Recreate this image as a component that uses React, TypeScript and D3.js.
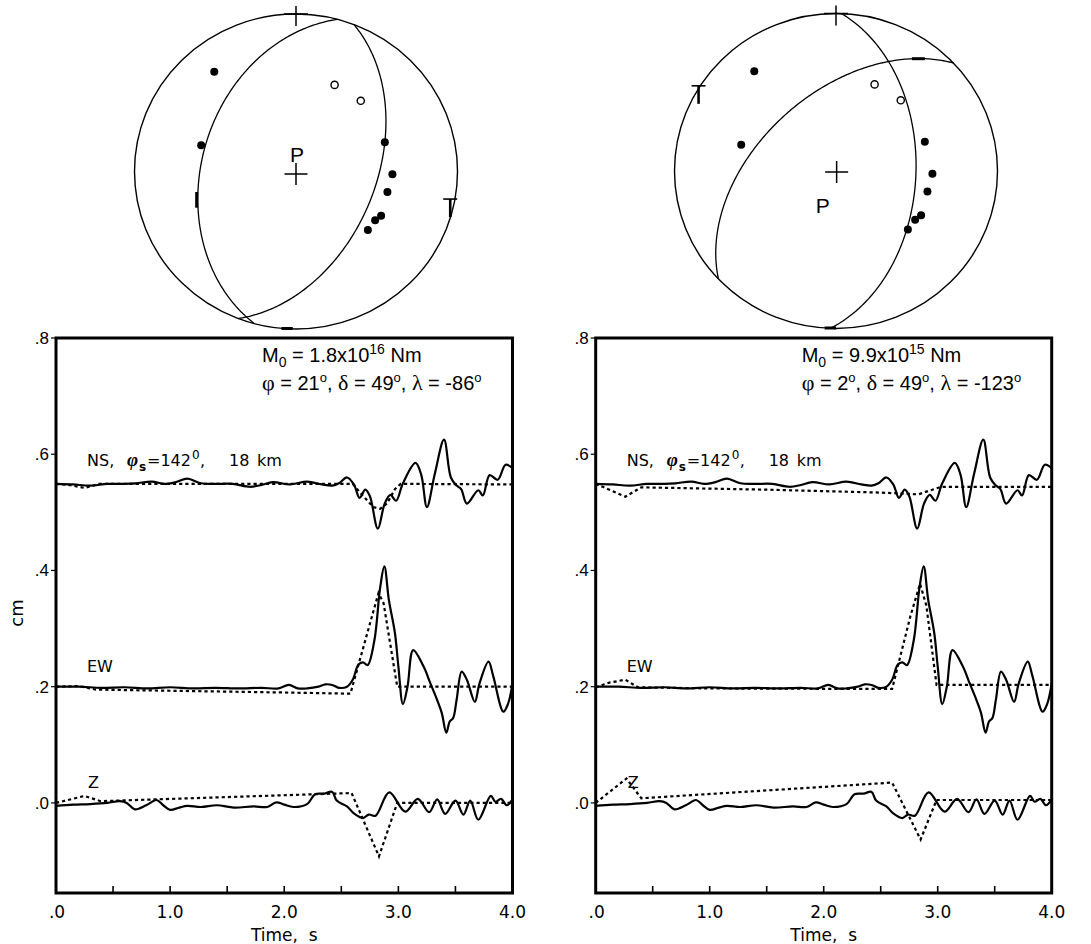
import React from "react";
import * as d3 from "d3";

// ---------- data ----------
const timeTicks = [0, 1, 2, 3, 4];
const timeTickLabels = [".0", "1.0", "2.0", "3.0", "4.0"];
const timeMinorTicks = [0.5, 1, 1.5, 2, 2.5, 3, 3.5];
const ampTicks = [0, 0.2, 0.4, 0.6, 0.8];
const ampTickLabels = [".0", ".2", ".4", ".6", ".8"];

// focal mechanisms (left, right)
const strikes = [21, 2];
const dips = [49, 49];
const rakes = [-86, -123];
const momentMantissa = ["1.8", "9.9"];
const momentExponent = ["16", "15"];

// polarity observations (normalised position inside the focal sphere plot)
const stationX = [-0.506, -0.587, 0.239, 0.401, 0.55, 0.597, 0.566, 0.527, 0.49, 0.445];
const stationY = [-0.634, -0.166, -0.55, -0.449, -0.185, 0.017, 0.13, 0.281, 0.31, 0.371];
const stationCompression = [true, true, false, false, true, true, true, true, true, true];

// P and T axes (normalised positions)
const pAxisX = [0, 0.004];
const pAxisY = [0.016, 0.006];
const tAxisX = [0.955, -0.851];
const tAxisY = [0.175, -0.541];

// observed records (time s, displacement cm with offsets)
const nsObserved: [number, number][] = [
  [0, 0.549], [0.15, 0.548], [0.3, 0.546], [0.45, 0.549], [0.6, 0.549], [0.7, 0.55], [0.84, 0.553],
  [0.95, 0.549], [1.05, 0.552], [1.15, 0.558], [1.27, 0.55], [1.4, 0.549], [1.55, 0.549], [1.7, 0.544],
  [1.8, 0.547], [1.9, 0.552], [2.05, 0.548], [2.2, 0.553], [2.33, 0.548], [2.42, 0.546], [2.48, 0.55],
  [2.55, 0.56], [2.61, 0.548], [2.66, 0.525], [2.71, 0.539], [2.75, 0.528], [2.82, 0.472], [2.88, 0.515],
  [2.93, 0.53], [2.98, 0.52], [3.04, 0.55], [3.15, 0.585], [3.2, 0.565], [3.25, 0.509], [3.32, 0.567],
  [3.4, 0.625], [3.46, 0.56], [3.51, 0.546], [3.55, 0.54], [3.6, 0.515], [3.7, 0.538], [3.74, 0.529],
  [3.8, 0.564], [3.87, 0.556], [3.94, 0.582], [4.0, 0.576],
];
const ewObserved: [number, number][] = [
  [0, 0.2], [0.2, 0.2], [0.4, 0.198], [0.6, 0.199], [0.8, 0.197], [1.0, 0.199], [1.2, 0.197],
  [1.4, 0.198], [1.6, 0.197], [1.8, 0.198], [1.95, 0.197], [2.04, 0.203], [2.12, 0.197], [2.2, 0.197],
  [2.3, 0.2], [2.36, 0.204], [2.42, 0.203], [2.48, 0.198], [2.55, 0.2], [2.6, 0.212], [2.65, 0.238],
  [2.69, 0.242], [2.73, 0.237], [2.79, 0.28], [2.84, 0.37], [2.877, 0.407], [2.917, 0.349], [2.97, 0.292],
  [3.0, 0.235], [3.04, 0.17], [3.08, 0.2], [3.13, 0.263], [3.22, 0.235], [3.28, 0.206], [3.34, 0.177],
  [3.38, 0.155], [3.42, 0.121], [3.45, 0.14], [3.48, 0.146], [3.51, 0.177], [3.555, 0.226], [3.6, 0.212],
  [3.67, 0.174], [3.71, 0.205], [3.79, 0.243], [3.83, 0.219], [3.92, 0.157], [3.96, 0.17], [4.0, 0.205],
];
const zObserved: [number, number][] = [
  [0, -0.005], [0.15, -0.003], [0.3, -0.002], [0.45, 0.0], [0.56, 0.003], [0.62, 0.0], [0.69, -0.011],
  [0.79, -0.004], [0.88, 0.005], [0.94, -0.004], [1.0, -0.012], [1.08, -0.008], [1.15, -0.005],
  [1.27, -0.007], [1.41, -0.004], [1.56, -0.008], [1.73, -0.006], [1.85, -0.007], [1.93, 0.001],
  [2.0, -0.003], [2.08, -0.007], [2.2, -0.002], [2.27, 0.015], [2.35, 0.016], [2.42, 0.019], [2.46, 0.004],
  [2.55, -0.006], [2.61, -0.018], [2.69, -0.026], [2.74, -0.02], [2.8, -0.022], [2.92, 0.018],
  [3.06, -0.015], [3.17, 0.007], [3.27, -0.016], [3.34, 0.006], [3.41, -0.019], [3.5, 0.004],
  [3.57, -0.02], [3.63, 0.004], [3.7, -0.029], [3.81, 0.012], [3.85, 0.002], [3.9, 0.007],
  [3.95, -0.004], [4.0, 0.006],
];

// synthetic records, left model
const nsSyntheticA: [number, number][] = [
  [0, 0.549], [0.12, 0.547], [0.25, 0.542], [0.38, 0.549], [2.6, 0.549], [2.66, 0.535], [2.72, 0.522],
  [2.78, 0.509], [2.84, 0.506], [2.9, 0.515], [2.97, 0.54], [3.02, 0.549], [4.0, 0.548],
];
const ewSyntheticA: [number, number][] = [
  [0, 0.2], [0.2, 0.201], [0.35, 0.195], [1.0, 0.193], [2.0, 0.19], [2.58, 0.188], [2.76, 0.315],
  [2.826, 0.361], [2.87, 0.344], [2.99, 0.2], [4.0, 0.2],
];
const zSyntheticA: [number, number][] = [
  [0, 0], [0.25, 0.012], [0.39, 0.003], [2.59, 0.017], [2.83, -0.092], [2.99, 0.0], [4.0, 0.0],
];
// synthetic records, right model
const nsSyntheticB: [number, number][] = [
  [0, 0.549], [0.26, 0.527], [0.4, 0.543], [1.5, 0.539], [2.5, 0.534], [2.83, 0.531], [3.03, 0.544],
  [4.0, 0.544],
];
const ewSyntheticB: [number, number][] = [
  [0, 0.199], [0.12, 0.207], [0.26, 0.212], [0.37, 0.199], [1.0, 0.197], [2.6, 0.196], [2.76, 0.321],
  [2.845, 0.377], [2.9, 0.34], [2.99, 0.203], [4.0, 0.203],
];
const zSyntheticB: [number, number][] = [
  [0, 0], [0.27, 0.042], [0.4, 0.008], [2.6, 0.035], [2.85, -0.063], [2.99, 0.005], [4.0, 0.005],
];

const synthetics = [
  [nsSyntheticA, ewSyntheticA, zSyntheticA],
  [nsSyntheticB, ewSyntheticB, zSyntheticB],
];

// ---------- layout ----------
const W = 1091;
const H = 944;
const frameLeft = [56, 595.7];
const frameRight = [512.5, 1051.7];
const frameTop = 338;
const frameBottom = 893;
const ballCX = [296, 836];
const ballCY = [171.5, 171];
const ballRX = 161.5;
const ballRY = 157.5;

const RAD = Math.PI / 180;

function planeArc(strike: number, dip: number): [number, number][] {
  const s = strike * RAD;
  const d = dip * RAD;
  const sv = [Math.cos(s), Math.sin(s), 0];
  const dv = [-Math.sin(s) * Math.cos(d), Math.cos(s) * Math.cos(d), Math.sin(d)];
  const pts: [number, number][] = [];
  const n = 180;
  for (let i = 0; i <= n; i++) {
    const t = (Math.PI * i) / n;
    const vN = Math.cos(t) * sv[0] + Math.sin(t) * dv[0];
    const vE = Math.cos(t) * sv[1] + Math.sin(t) * dv[1];
    const vD = Math.max(0, Math.min(1, Math.cos(t) * sv[2] + Math.sin(t) * dv[2]));
    const trend = Math.atan2(vE, vN);
    const plunge = Math.asin(vD);
    const r = Math.SQRT2 * Math.sin((Math.PI / 2 - plunge) / 2);
    pts.push([r * Math.sin(trend), -r * Math.cos(trend)]);
  }
  return pts;
}

function auxiliaryPlane(strike: number, dip: number, rake: number): [number, number] {
  const f = strike * RAD, d = dip * RAD, l = rake * RAD;
  let uN = Math.cos(l) * Math.cos(f) + Math.sin(l) * Math.cos(d) * Math.sin(f);
  let uE = Math.cos(l) * Math.sin(f) - Math.sin(l) * Math.cos(d) * Math.cos(f);
  let uD = -Math.sin(l) * Math.sin(d);
  if (uD > 0) { uN = -uN; uE = -uE; uD = -uD; }
  const dip2 = Math.acos(-uD) / RAD;
  const dipDir = Math.atan2(uE, uN) / RAD;
  return [dipDir - 90, dip2];
}

const FONT = "'Liberation Sans', Arial, Helvetica, sans-serif";
const GOTHIC = "'DejaVu Sans', 'Liberation Sans', sans-serif";

function Beachball({ i }: { i: number }) {
  const bx = d3.scaleLinear().domain([-1, 1]).range([ballCX[i] - ballRX, ballCX[i] + ballRX]);
  const by = d3.scaleLinear().domain([-1, 1]).range([ballCY[i] - ballRY, ballCY[i] + ballRY]);
  const line = d3.line<[number, number]>().x((d) => bx(d[0])).y((d) => by(d[1]));
  const aux = auxiliaryPlane(strikes[i], dips[i], rakes[i]);
  const arcs = [planeArc(strikes[i], dips[i]), planeArc(aux[0], aux[1])];
  const px = bx(pAxisX[i]), py = by(pAxisY[i]);
  const tx = bx(tAxisX[i]), ty = by(tAxisY[i]);
  const nx = bx(0), ny = by(-1);
  return (
    <g>
      <ellipse cx={ballCX[i]} cy={ballCY[i]} rx={ballRX} ry={ballRY} fill="none" stroke="#000" strokeWidth={1.4} />
      {arcs.map((a, k) => (
        <path key={k} d={line(a) || ""} fill="none" stroke="#000" strokeWidth={1.3} />
      ))}
      {/* north mark */}
      <path d={`M${nx - 12},${ny} H${nx + 12} M${nx},${ny - 8} V${ny + 12}`} stroke="#000" strokeWidth={1.5} />
      {/* P axis */}
      <path d={`M${px - 11.5},${py} H${px + 11.5} M${px},${py - 11} V${py + 11}`} stroke="#000" strokeWidth={1.5} />
      <text x={i === 0 ? px + 1 : px - 14} y={i === 0 ? py - 12 : py + 41} fontFamily={FONT} fontSize={21} textAnchor="middle">P</text>
      {/* T axis */}
      <path d={`M${tx - 7},${ty} H${tx + 7}`} stroke="#000" strokeWidth={1.6} />
      <path d={`M${tx},${ty} V${ty + 18}`} stroke="#000" strokeWidth={2.6} />
      {/* slip markers */}
      {i === 0 ? (
        <g stroke="#000" strokeWidth={3}>
          <path d={`M${bx(-0.615)},${by(0.13)} V${by(0.23)}`} />
          <path d={`M${bx(-0.09)},${by(1.0) - 0.5} H${bx(-0.02)}`} />
        </g>
      ) : (
        <g stroke="#000" strokeWidth={3}>
          <path d={`M${bx(0.47)},${by(-0.713)} H${bx(0.55)}`} />
          <path d={`M${bx(-0.07)},${by(1.0) - 0.5} H${bx(0.0)}`} />
        </g>
      )}
      {stationX.map((sx, k) =>
        stationCompression[k] ? (
          <circle key={k} cx={bx(sx)} cy={by(stationY[k])} r={4} fill="#000" />
        ) : (
          <circle key={k} cx={bx(sx)} cy={by(stationY[k])} r={3.6} fill="#fff" stroke="#000" strokeWidth={1.4} />
        )
      )}
    </g>
  );
}

function Panel({ i }: { i: number }) {
  const x = d3.scaleLinear().domain([0, 4]).range([frameLeft[i], frameRight[i]]);
  const y = d3.scaleLinear().domain([-0.155, 0.8]).range([frameBottom, frameTop]);
  const smooth = d3.line<[number, number]>().x((d) => x(d[0])).y((d) => y(d[1])).curve(d3.curveCatmullRom.alpha(0.5));
  const straight = d3.line<[number, number]>().x((d) => x(d[0])).y((d) => y(d[1]));
  const observed = [nsObserved, ewObserved, zObserved];
  const syn = synthetics[i];
  const lx = frameLeft[i] + 31;
  const textX = frameLeft[i] + 206;
  return (
    <g>
      {/* traces */}
      {syn.map((s, k) => (
        <path key={"s" + k} d={straight(s) || ""} fill="none" stroke="#000" strokeWidth={2.2} strokeDasharray="3.2 3" />
      ))}
      {observed.map((o, k) => (
        <path key={"o" + k} d={smooth(o) || ""} fill="none" stroke="#000" strokeWidth={2.2} strokeLinejoin="round" />
      ))}
      {/* frame */}
      <rect x={frameLeft[i]} y={frameTop} width={frameRight[i] - frameLeft[i]} height={frameBottom - frameTop} fill="none" stroke="#000" strokeWidth={3} />
      {/* x ticks */}
      {timeMinorTicks.map((t) => (
        <line key={t} x1={x(t)} x2={x(t)} y1={frameBottom} y2={frameBottom - 7} stroke="#000" strokeWidth={1.6} />
      ))}
      {timeTicks.map((t, k) => (
        <text key={t} x={x(t) + (k === 0 ? 1 : 0)} y={918} fontFamily={GOTHIC} fontSize={17} textAnchor="middle">{timeTickLabels[k]}</text>
      ))}
      <text x={x(2)} y={941} fontFamily={GOTHIC} fontSize={17} textAnchor="middle" style={{ whiteSpace: "pre" }}>{"Time,  s"}</text>
      {/* y ticks */}
      {ampTicks.map((v, k) => (
        <g key={v}>
          <line x1={frameLeft[i] - 5} x2={frameLeft[i]} y1={y(v)} y2={y(v)} stroke="#000" strokeWidth={1.2} />
          <text x={frameLeft[i] - 7} y={y(v) + 6} fontFamily={FONT} fontSize={17} textAnchor="end">{ampTickLabels[k]}</text>
        </g>
      ))}
      {i === 0 && (
        <text transform={`translate(23,613) rotate(-90)`} fontFamily={GOTHIC} fontSize={18} textAnchor="middle">cm</text>
      )}
      {/* trace labels */}
      <g fontFamily={GOTHIC} fontSize={16}>
        <text x={lx} y={466}>NS,</text>
        <text x={lx + 40} y={466} fontFamily="'Liberation Serif', serif" fontStyle="italic" fontWeight="bold" fontSize={19}>φ</text>
        <text x={lx + 52} y={471} fontSize={12} fontWeight="bold">s</text>
        <text x={lx + 60} y={466}>=142</text>
        <text x={lx + 105} y={459} fontSize={12}>0</text>
        <text x={lx + 113} y={466}>,</text>
        <text x={lx + 142} y={466}>18</text>
        <text x={lx + 170} y={466}>km</text>
        <text x={lx} y={672}>EW</text>
        <text x={lx + 1} y={788}>Z</text>
      </g>
      {/* mechanism annotation */}
      <text x={textX} y={362} fontFamily={FONT} fontSize={20} style={{ whiteSpace: "pre" }}>
        <tspan>M</tspan>
        <tspan dy={5} fontSize={14}>0</tspan>
        <tspan dy={-5}>{` = ${momentMantissa[i]}x10`}</tspan>
        <tspan dy={-8} fontSize={14}>{momentExponent[i]}</tspan>
        <tspan dy={8}> Nm</tspan>
      </text>
      <text x={textX} y={390} fontFamily={FONT} fontSize={20} style={{ whiteSpace: "pre" }}>
        <tspan fontFamily="'Liberation Serif', serif" fontSize={22}>φ</tspan>
        <tspan>{` = ${strikes[i]}`}</tspan>
        <tspan dy={-8} fontSize={13}>o</tspan>
        <tspan dy={8}>, </tspan>
        <tspan fontFamily="'Liberation Serif', serif" fontSize={22}>δ</tspan>
        <tspan>{` = ${dips[i]}`}</tspan>
        <tspan dy={-8} fontSize={13}>o</tspan>
        <tspan dy={8}>, </tspan>
        <tspan fontFamily="'Liberation Serif', serif" fontSize={22}>λ</tspan>
        <tspan>{` = ${rakes[i]}`}</tspan>
        <tspan dy={-8} fontSize={13}>o</tspan>
      </text>
    </g>
  );
}

export default function App() {
  return (
    <svg width={W} height={H} viewBox={`0 0 ${W} ${H}`} style={{ position: "absolute", left: 0, top: 0, background: "#fff" }}>
      <rect width={W} height={H} fill="#fff" />
      <Beachball i={0} />
      <Beachball i={1} />
      <Panel i={0} />
      <Panel i={1} />
    </svg>
  );
}
